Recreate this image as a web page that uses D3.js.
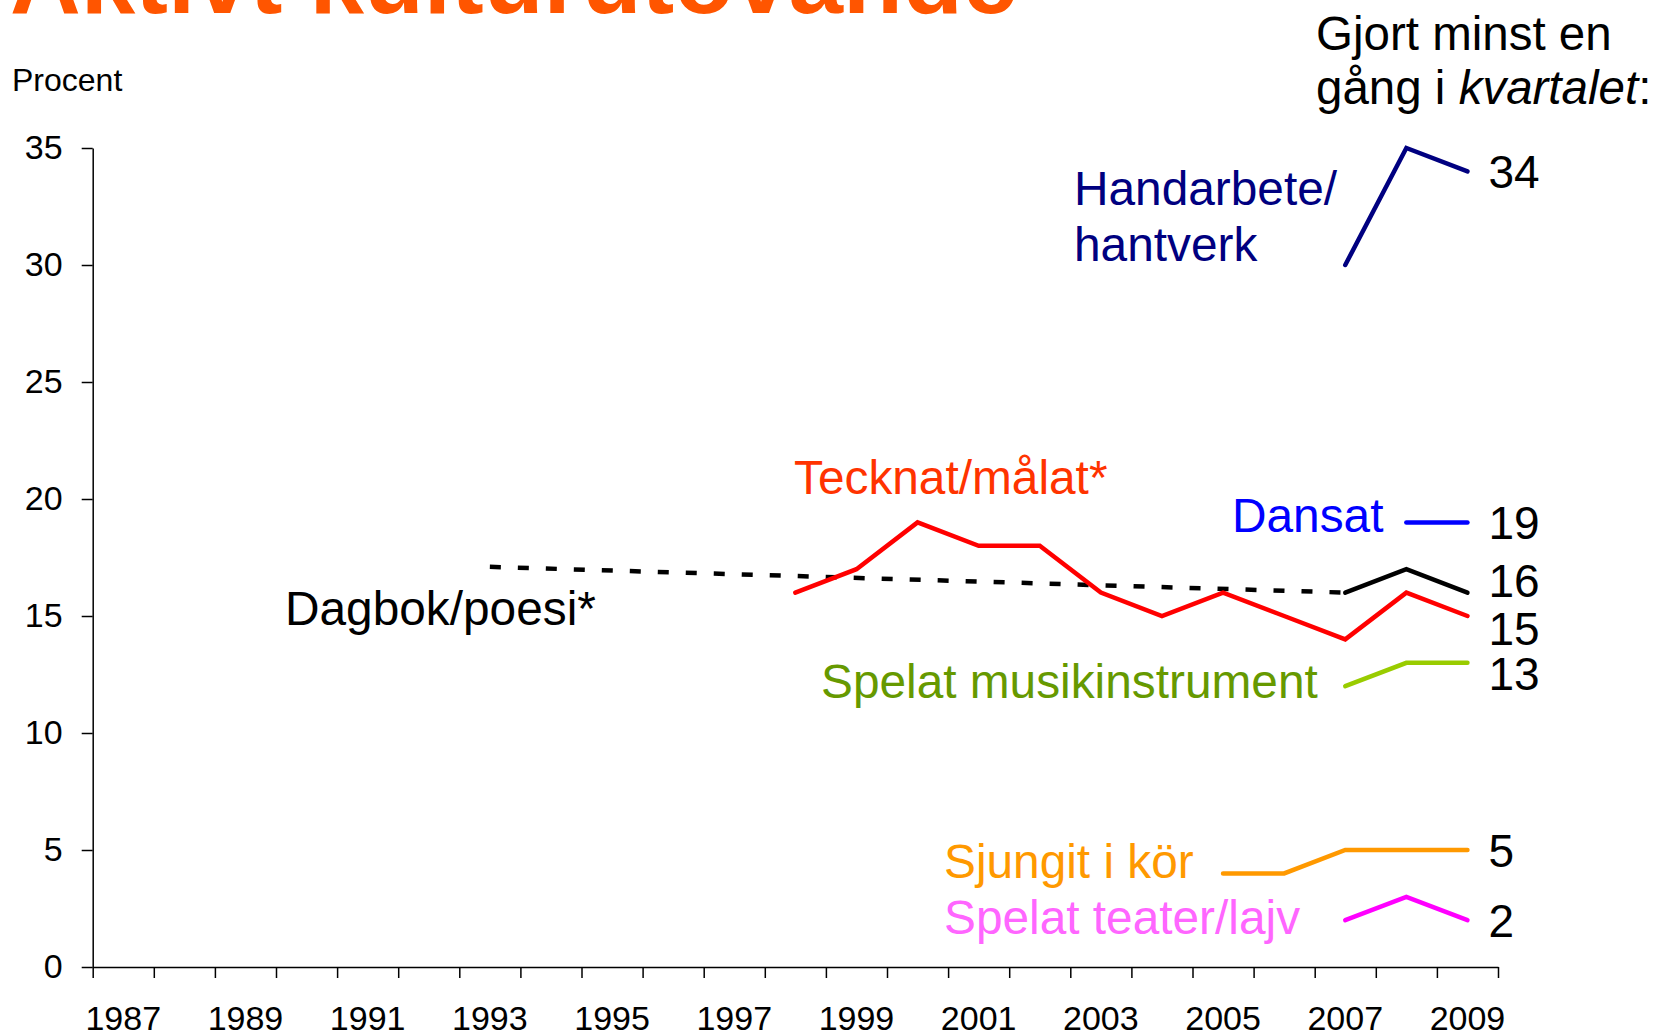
<!DOCTYPE html>
<html>

<head>
	<title>Aktivt kulturutövande</title>
	<meta http-equiv="Content-Type" content="text/html; charset=UTF-8">
	<style>
		html,
		body {
			margin: 0px;
			padding: 0px;
			background: #fff;
		}

		svg {
			display: block;
			font-family: "Liberation Sans", Arial, Helvetica, sans-serif;
		}

		.axis path,
		.axis line {
			stroke: #000;
			stroke-width: 1.5px;
		}

		.axis text {
			font-size: 34px;
			fill: #000;
		}
	</style>
	<script src="https://cdn.jsdelivr.net/npm/d3@7"></script>
</head>

<body>

	<div id="chart"></div>

	<script>
		// categories (x axis) and the years that get a label
		var years = [1987, 1988, 1989, 1990, 1991, 1992, 1993, 1994, 1995, 1996, 1997, 1998,
			1999, 2000, 2001, 2002, 2003, 2004, 2005, 2006, 2007, 2008, 2009];
		var labelYears = [1987, 1989, 1991, 1993, 1995, 1997, 1999, 2001, 2003, 2005, 2007, 2009];
		var yTicks = [0, 5, 10, 15, 20, 25, 30, 35];

		// series values
		var handarbeteYears = [2007, 2008, 2009];
		var handarbete = [30, 35, 34];
		var dansatYears = [2008, 2009];
		var dansat = [19, 19];
		var dagbokTrendYears = [1993, 2007];
		var dagbokTrend = [17.1, 16];
		var dagbokYears = [2007, 2008, 2009];
		var dagbok = [16, 17, 16];
		var tecknatYears = [1998, 1999, 2000, 2001, 2002, 2003, 2004, 2005, 2006, 2007, 2008, 2009];
		var tecknat = [16, 17, 19, 18, 18, 16, 15, 16, 15, 14, 16, 15];
		var musikYears = [2007, 2008, 2009];
		var musik = [12, 13, 13];
		var korYears = [2005, 2006, 2007, 2008, 2009];
		var kor = [4, 4, 5, 5, 5];
		var teaterYears = [2007, 2008, 2009];
		var teater = [2, 3, 2];

		var W = 1658, H = 1032;
		var svg = d3.select("#chart").append("svg")
			.attr("width", W)
			.attr("height", H);

		var x = d3.scaleBand().domain(years).range([92.7, 1498]).padding(0);
		var xEdge = d3.scaleLinear().domain([1987, 2010]).range([92.7, 1498]);
		var y = d3.scaleLinear().domain([0, 35]).range([967, 148]);

		// title, cut off by the top edge
		svg.append("text")
			.attr("x", 10)
			.attr("y", 13)
			.attr("font-size", 98)
			.attr("font-weight", "bold")
			.attr("fill", "#FF5500")
			.text("Aktivt kulturutövande");

		svg.append("text")
			.attr("x", 12)
			.attr("y", 91)
			.attr("font-size", 32)
			.text("Procent");

		var note = svg.append("text")
			.attr("x", 1316)
			.attr("y", 50)
			.attr("font-size", 47.5);
		note.append("tspan").text("Gjort minst en");
		var l2 = note.append("tspan").attr("x", 1316).attr("y", 104);
		l2.append("tspan").text("gång i ");
		l2.append("tspan").attr("font-style", "italic").text("kvartalet");
		l2.append("tspan").text(":");

		// axes
		svg.append("g")
			.attr("class", "axis")
			.attr("transform", "translate(92.7,0)")
			.call(d3.axisLeft(y).tickValues(yTicks).tickSize(11).tickPadding(19).tickSizeOuter(0));

		svg.append("g")
			.attr("class", "axis")
			.attr("transform", "translate(0,967)")
			.call(d3.axisBottom(xEdge).tickValues(d3.range(1987, 2011)).tickFormat("").tickSize(11).tickSizeOuter(0));

		var xl = svg.append("g")
			.attr("class", "axis")
			.attr("transform", "translate(0,967)")
			.call(d3.axisBottom(x).tickValues(labelYears).tickSize(0).tickPadding(0));
		xl.select(".domain").remove();
		xl.selectAll("text").attr("dy", null).attr("y", 63);

		var line = d3.line()
			.x(function(d) { return x(d[0]) + x.bandwidth() / 2; })
			.y(function(d) { return y(d[1]); });

		function draw(ys, vs, color, dash) {
			var pts = ys.map(function(yr, i) { return [yr, vs[i]]; });
			svg.append("path")
				.datum(pts)
				.attr("d", line)
				.attr("fill", "none")
				.attr("stroke", color)
				.attr("stroke-width", 4.5)
				.attr("stroke-linejoin", "miter")
				.attr("stroke-linecap", dash ? "butt" : "round")
				.attr("stroke-dasharray", dash || null);
		}

		draw(dagbokTrendYears, dagbokTrend, "#000", "11,17");
		draw(tecknatYears, tecknat, "#FF0000");
		draw(dagbokYears, dagbok, "#000");
		draw(handarbeteYears, handarbete, "#000080");
		draw(dansatYears, dansat, "#0000FF");
		draw(musikYears, musik, "#99CC00");
		draw(korYears, kor, "#FF9900");
		draw(teaterYears, teater, "#FF00FF");

		// end values on the right
		var ends = [
			[handarbete, 0], [dansat, 0], [dagbok, -12], [tecknat, 12], [musik, 11], [kor, 0], [teater, 0]
		];
		ends.forEach(function(e) {
			var v = e[0][e[0].length - 1];
			svg.append("text")
				.attr("x", x(2009) + x.bandwidth() / 2 + 21)
				.attr("y", y(v) + e[1])
				.attr("dy", "0.36em")
				.attr("font-size", 46)
				.text(v);
		});

		// series names
		var names = [
			{ t: ["Handarbete/", "hantverk"], x: 1074, y: 205, c: "#000080" },
			{ t: ["Tecknat/målat*"], x: 794, y: 494, c: "#FF3300" },
			{ t: ["Dansat"], x: 1232, y: 532, c: "#0000FF" },
			{ t: ["Dagbok/poesi*"], x: 285, y: 625, c: "#000" },
			{ t: ["Spelat musikinstrument"], x: 821, y: 698, c: "#669900" },
			{ t: ["Sjungit i kör"], x: 944, y: 878, c: "#FF9900" },
			{ t: ["Spelat teater/lajv"], x: 944, y: 934, c: "#FF66FF" }
		];
		names.forEach(function(n) {
			var t = svg.append("text")
				.attr("font-size", 47.8)
				.attr("fill", n.c);
			n.t.forEach(function(s, i) {
				t.append("tspan").attr("x", n.x).attr("y", n.y + i * 56).text(s);
			});
		});
	</script>

</body>

</html>
